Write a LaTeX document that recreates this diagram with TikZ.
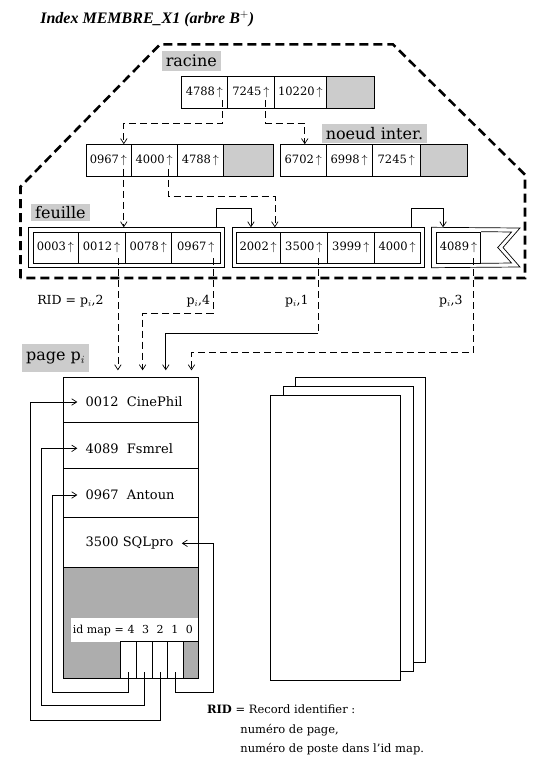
\documentclass[tikz,border=0pt]{standalone}
\usepackage{fontspec}
\setmainfont{DejaVu Serif}
\newfontfamily\titlefont{Liberation Serif}
\usepackage{tikz}
\usetikzlibrary{arrows.meta,fit}
\definecolor{lgray}{gray}{0.8}
\definecolor{pgray}{gray}{0.68}
\newcommand{\ua}{\,$\uparrow$}

\begin{document}
\begin{tikzpicture}[x=1pt,y=-1pt,line width=0.7pt,
  cell/.style={draw,anchor=west,inner sep=0,minimum height=32,font=\fontsize{11.5}{13}\selectfont},
  leafcell/.style={cell,minimum height=31},
  tag/.style={fill=lgray,anchor=west,inner xsep=4,inner ysep=0,font=\fontsize{16}{18}\selectfont},
  pagerow/.style={draw,anchor=north west,inner sep=0,minimum width=135},
  rec/.style={anchor=west,inner xsep=8,font=\fontsize{13}{15}\selectfont},
  slot/.style={draw,fill=white,anchor=west,inner sep=0,minimum height=36.6},
  lbl/.style={anchor=east,inner sep=1,font=\fontsize{12.5}{14}\selectfont},
  legend/.style={anchor=west,inner sep=0,font=\fontsize{11.5}{13}\selectfont},
  arr/.style={-{Straight Barb[length=5pt,width=6.5pt]}},
  ptr/.style={arr,dash pattern=on 7pt off 4pt}]
\useasboundingbox (0,0) rectangle (536,769);

\node[anchor=west,inner sep=0,font=\fontsize{16}{18}\titlefont\bfseries\itshape] (title) at (40,19) {Index MEMBRE\_X1 (arbre B$^+$)};
\draw[line width=2.6pt,dash pattern=on 9pt off 5pt] (20.5,278) -- (20.5,186.7) -- (160,44.4) -- (393,44.4) -- (525,174.7) -- (525,278) -- cycle;

\node[tag,minimum height=20] (tr) at (161.4,61) {racine};
\node[cell,minimum width=46] (r1) at (181,92) {4788\ua}; \node[cell,minimum width=47] (r2) at (227,92) {7245\ua};
\node[cell,minimum width=52] (r3) at (274,92) {10220\ua}; \node[cell,minimum width=48,fill=lgray] (r4) at (326,92) {};

\node[tag,minimum height=19] (ti) at (321.4,133.5) {noeud inter.};
\node[cell,minimum width=45] (a1) at (85.5,160.5) {0967\ua}; \node[cell,minimum width=46.5] (a2) at (130.5,160.5) {4000\ua};
\node[cell,minimum width=46] (a3) at (177,160.5) {4788\ua}; \node[cell,minimum width=49.5,fill=lgray] (a4) at (223,160.5) {};
\node[cell,minimum width=45.2] (b1) at (280.3,160.5) {6702\ua}; \node[cell,minimum width=46.5] (b2) at (325.5,160.5) {6998\ua};
\node[cell,minimum width=47.8] (b3) at (372,160.5) {7245\ua}; \node[cell,minimum width=47.6,fill=lgray] (b4) at (419.8,160.5) {};

\node[tag,minimum height=17] (tf) at (30.8,212.4) {feuille};
\node[leafcell,minimum width=45] (f1) at (32.5,247.5) {0003\ua}; \node[leafcell,minimum width=47.3] (f2) at (77.5,247.5) {0012\ua};
\node[leafcell,minimum width=46.1] (f3) at (124.8,247.5) {0078\ua}; \node[leafcell,minimum width=49] (f4) at (170.9,247.5) {0967\ua};
\node[leafcell,minimum width=43.8] (g1) at (235.9,247.5) {2002\ua}; \node[leafcell,minimum width=47.5] (g2) at (279.7,247.5) {3500\ua};
\node[leafcell,minimum width=46.5] (g3) at (327.2,247.5) {3999\ua}; \node[leafcell,minimum width=46.1] (g4) at (373.7,247.5) {4000\ua};
\node[leafcell,minimum width=44.4] (h1) at (435.9,247.5) {4089\ua};
\node[fit=(f1)(f4),draw,inner sep=4] (F1) {};
\node[fit=(g1)(g4),draw,inner sep=4] (F2) {};
\node[fit=(h1),inner sep=4] (F3) {};
\draw (F3.north west) -- (520,228) -- (503,247.5) -- (520,267) -- (F3.south west) -- cycle;
\draw (h1.north east) -- (511.5,232) -- (497.7,247.5) -- (511.5,263) -- (h1.south east);

\coordinate (r1p) at ([shift={(-5,-8)}]r1.south east); \coordinate (r2p) at ([shift={(-9,-8)}]r2.south east);
\coordinate (a1p) at ([shift={(-7.4,-8)}]a1.south east); \coordinate (a2p) at ([shift={(-9.5,-8)}]a2.south east);
\draw[ptr] (r1p) -- ++(0,23) -| ([xshift=-7.4pt]a1.north east);
\draw[ptr] (r2p) -- ++(0,23) -| ([xshift=1.5pt]b1.north);
\draw[ptr] (a1p) -- (a1p |- F1.north);
\draw[ptr] (a2p) -- ++(0,27.5) -| ([xshift=43.3pt]F2.north west);
\draw[arr] ([xshift=-9pt]F1.north east) -- ++(0,-18.5) -| ([xshift=19.4pt]F2.north west);
\draw[arr] ([xshift=-13.5pt]F2.north east) -- ++(0,-18.5) -| ([xshift=11.5pt]F3.north west);

\node[tag,minimum height=28] (tp) at (21.7,358.4) {page p$_i$};
\node[pagerow,minimum height=44.4] (s1) at (63.3,377.3) {};
\node[pagerow,minimum height=46.6] (s2) at (63.3,421.7) {};
\node[pagerow,minimum height=49] (s3) at (63.3,468.3) {};
\node[pagerow,minimum height=49.4] (s4) at (63.3,517.3) {};
\node[pagerow,minimum height=111.6,fill=pgray] (s5) at (63.3,566.7) {};
\node[rec] (t1) at (77.3,402) {0012~~CinePhil};
\node[rec] (t2) at (77.3,448.3) {4089~~Fsmrel};
\node[rec] (t3) at (77.3,495) {0967~~Antoun};
\node[rec] (t4) at (77.3,543.3) {3500 SQLpro};
\node[fill=white,anchor=west,inner sep=0,minimum width=127,minimum height=23.4,font=\fontsize{11}{13}\selectfont] (idm) at (71,630) {id map =\makebox[14.6pt]{4}\makebox[14.6pt]{3}\makebox[14.6pt]{2}\makebox[14.6pt]{1}\makebox[14.6pt]{0}};
\node[slot,minimum width=16] (c4) at (120,660) {}; \node[slot,minimum width=15.7] (c3) at (136,660) {};
\node[slot,minimum width=15.6] (c2) at (151.7,660) {}; \node[slot,minimum width=15.4] (c1) at (167.3,660) {};
\node[slot,minimum width=15.6,fill=pgray] (c0) at (182.7,660) {};

\coordinate (f2p) at ([shift={(-7.6,-5)}]f2.south east); \coordinate (f4p) at ([shift={(-7.3,-5)}]f4.south east);
\coordinate (g2p) at ([shift={(-9.9,-5)}]g2.south east); \coordinate (h1p) at ([shift={(-7.5,-5)}]h1.south east);
\draw[ptr,shorten >=7pt] (f2p) -- (f2p |- s1.north);
\draw[ptr,shorten >=7pt] (f4p) -- ++(0,55) -| (142.6,0 |- s1.north);
\draw[dash pattern=on 7pt off 4pt] (g2p) -- ++(0,74.6) coordinate (g2q);
\draw[arr,shorten >=7pt] (g2q) -| (165.8,0 |- s1.north);
\draw[ptr,shorten >=7pt] (h1p) -- ++(0,94) -| (191.5,0 |- s1.north);
\node[lbl] (l2) at (105,301) {RID = p$_i$,2};
\node[lbl] (l4) at (211.5,301) {p$_i$,4};
\node[lbl] (l1) at (310,301) {p$_i$,1};
\node[lbl] (l3) at (464,301) {p$_i$,3};

\draw[arr] ([yshift=6.6pt]c4.south) |- (52.3,692.3) |- (t3.west);
\draw[arr] ([yshift=6.6pt]c3.south) |- (41,705) |- (t2.west);
\draw[arr] ([yshift=6.6pt]c2.south) |- (30.7,720) |- (t1.west);
\draw[arr] ([yshift=6.6pt]c1.south) |- (213.3,692.3) |- (t4.east);

\draw[fill=white] (295,377.3) rectangle (425.7,662.7);
\draw[fill=white] (283.3,386) rectangle (413.3,671.7);
\draw[fill=white] (270.3,395) rectangle (400.7,680.7);

\node[legend] (k1) at (206.7,709) {\textbf{RID} = Record identifier :};
\node[legend] (k2) at (240,730) {numéro de page,};
\node[legend] (k3) at (240,749) {numéro de poste dans l'id map.};
\end{tikzpicture}
\end{document}
